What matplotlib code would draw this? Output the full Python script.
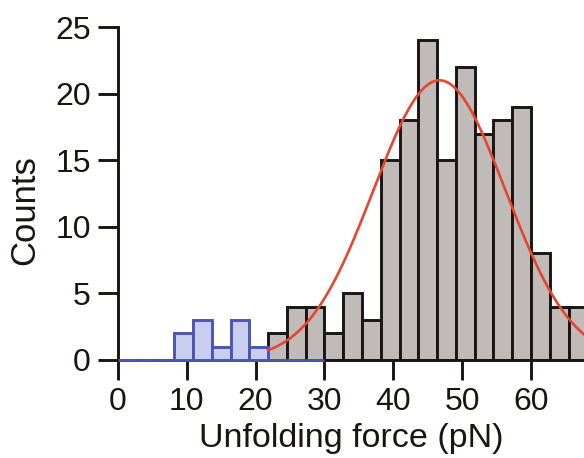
import numpy as np
import matplotlib
matplotlib.use("Agg")
import matplotlib.pyplot as plt

plt.rcParams['font.family'] = ['Liberation Sans', 'DejaVu Sans']

# Histogram binning (pN)
bin_width = 30 / 11
blue_start_bin = 0
blue_counts = [0, 0, 0, 2, 3, 1, 3, 1, 0, 0, 0]
gray_start_bin = 8
gray_counts = [2, 4, 4, 2, 5, 3, 15, 18, 24, 15, 22, 17, 18, 19, 8, 4, 4]

# Gaussian fit of the main population
fit_amp = 21.0
fit_mu = 46.7
fit_sigma = 9.6
fit_start = gray_start_bin * bin_width

x_ticks = [0, 10, 20, 30, 40, 50, 60]
y_ticks = [0, 5, 10, 15, 20, 25]

ink = '#1a1512'
lw = 2.1

fig = plt.figure(figsize=(5.84, 4.58), dpi=100)
ax = fig.add_axes([0.202, 0.214, 0.798, 0.727])

gray_left = (gray_start_bin + np.arange(len(gray_counts))) * bin_width
ax.bar(gray_left, gray_counts, width=bin_width, align='edge',
       color='#c0bab8', edgecolor=ink, linewidth=lw, zorder=2)

blue_left = (blue_start_bin + np.arange(len(blue_counts))) * bin_width
ax.bar(blue_left, blue_counts, width=bin_width, align='edge',
       color='#c9cdee', edgecolor='#4a55b5', linewidth=lw, zorder=3,
       clip_on=False)

xs = np.linspace(fit_start, 70, 400)
ax.plot(xs, fit_amp * np.exp(-(xs - fit_mu) ** 2 / (2 * fit_sigma ** 2)),
        color='#e8452f', linewidth=1.9, zorder=4)

ax.set_xlim(0, 67.7)
ax.set_ylim(0, 25)
ax.set_xticks(x_ticks)
ax.set_yticks(y_ticks)
for s in ['top', 'right']:
    ax.spines[s].set_visible(False)
for s in ['left', 'bottom']:
    ax.spines[s].set_linewidth(lw)
    ax.spines[s].set_color(ink)
ax.tick_params(direction='out', length=14.5, width=lw, labelsize=23,
               color=ink, labelcolor=ink, pad=5)
ax.set_xlabel('Unfolding force (pN)', fontsize=24.5, color=ink)
ax.set_ylabel('Counts', fontsize=25, color=ink)
ax.xaxis.set_label_coords(0.5, -0.19)
ax.yaxis.set_label_coords(-0.165, 0.45)

fig.savefig('out.png', dpi=100)
